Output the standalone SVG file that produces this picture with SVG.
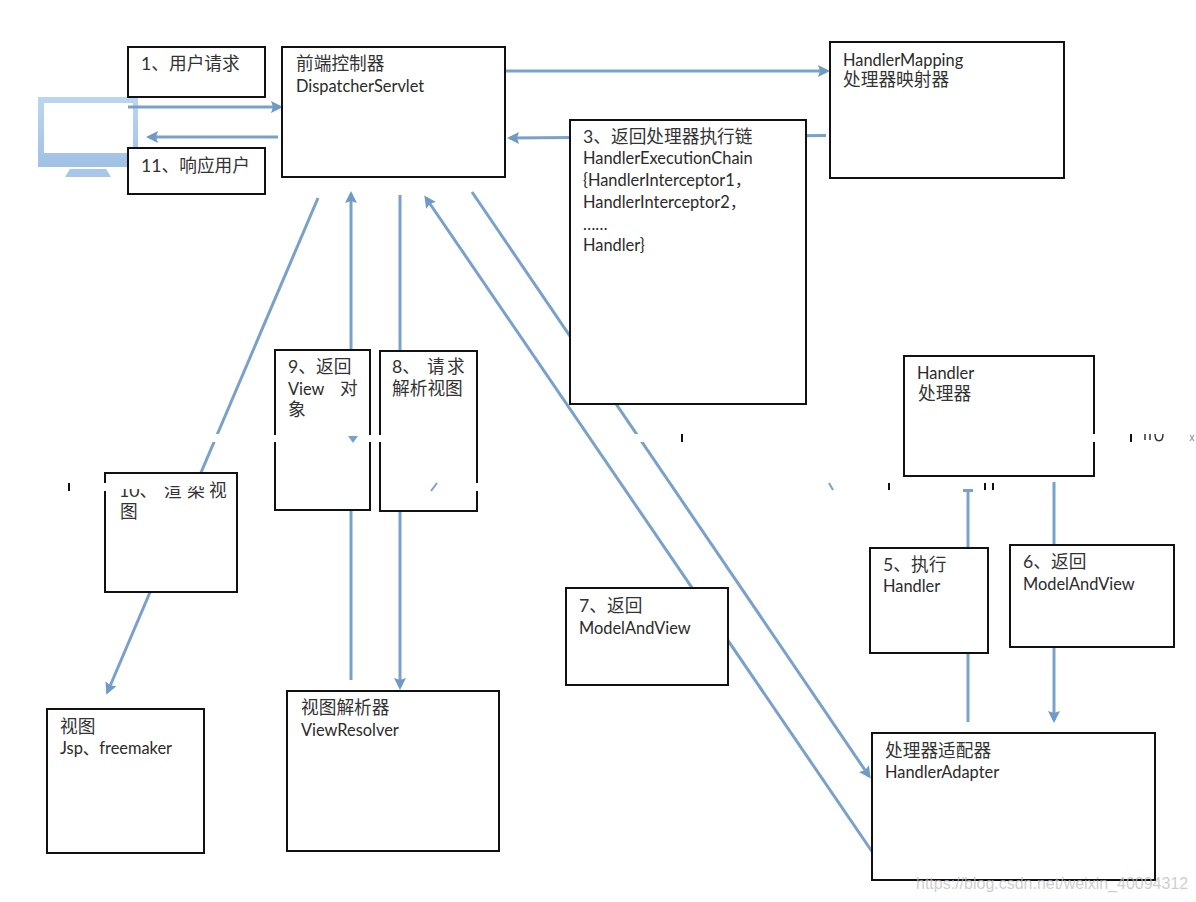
<svg xmlns="http://www.w3.org/2000/svg" width="1196" height="902" viewBox="0 0 1196 902">
<style>
.box{fill:#fff;stroke:#111;stroke-width:2}
.t{font-family:Lato,"Noto Sans CJK SC",sans-serif;font-size:16.400px;fill:#2a2a2a}
.z{font-family:Lato,"Noto Sans CJK SC",sans-serif;font-size:17.700px;fill:#333}
.c{fill:none;stroke:#7aa1c9;stroke-width:3}
.a{marker-end:url(#arrow)}
.gap{fill:#fff}
.tick{stroke:#111;stroke-width:2}
.wm{font-family:"Liberation Sans",sans-serif;font-size:16px;fill:#bdbdbd;fill-opacity:.75}
</style>
<defs>
<marker id="arrow" markerUnits="userSpaceOnUse" markerWidth="14" markerHeight="14" refX="9" refY="6" orient="auto"><path d="M0 0L12 6L0 12L2 6Z" fill="#6f9ac6"/></marker>
<linearGradient id="mon" x1="0" y1="0" x2="0" y2="1"><stop offset="0" stop-color="#bcd6f0"/><stop offset="1" stop-color="#a0c1e5"/></linearGradient>
</defs>
<g id="monitor">
<rect x="38" y="97" width="100" height="70" fill="url(#mon)"/>
<rect x="44" y="103" width="89" height="50" fill="#fff"/>
<path d="M70 169H106L111 177H65Z" fill="#a8c6e8"/>
</g>
<g id="connectors">
<line class="c a" x1="128" y1="107" x2="280" y2="107"/>
<line class="c a" x1="278" y1="137" x2="149" y2="137"/>
<line class="c a" x1="506" y1="71" x2="827" y2="71"/>
<line class="c a" x1="826" y1="135.500" x2="510" y2="138"/>
<line class="c a" x1="318" y1="198" x2="107.500" y2="692"/>
<line class="c a" x1="351" y1="680" x2="351" y2="194"/>
<line class="c a" x1="400" y1="195" x2="400" y2="687"/>
<line class="c a" x1="472" y1="192" x2="869" y2="776"/>
<line class="c a" x1="873" y1="853" x2="426" y2="198"/>
<line class="c" x1="968" y1="490" x2="968" y2="722"/>
<line class="c" x1="963" y1="490.500" x2="973" y2="490.500"/>
<line class="c a" x1="1054" y1="482" x2="1054" y2="720"/>
</g>
<g id="node-1"><rect class="box" x="128" y="47" width="137" height="50"/><text class="z" x="141" y="70">1、用户请求</text></g>
<g id="node-11"><rect class="box" x="128" y="148" width="137" height="46"/><text class="z" x="141" y="172">11、响应用户</text></g>
<g id="node-dispatcher"><rect class="box" x="282" y="47" width="223" height="130"/><text class="z" x="296" y="70">前端控制器</text><text class="t" x="296" y="92">DispatcherServlet</text></g>
<g id="node-mapping"><rect class="box" x="830" y="42" width="234" height="136"/><text class="t" x="843" y="66">HandlerMapping</text><text class="z" x="843" y="86">处理器映射器</text></g>
<g id="node-3"><rect class="box" x="570" y="120" width="236" height="284"/><text class="z" x="583" y="143">3、返回处理器执行链</text><text class="t" x="583" y="164">HandlerExecutionChain</text><text class="t" x="583" y="186">{HandlerInterceptor1，</text><text class="t" x="583" y="208">HandlerInterceptor2，</text><text class="t" x="583" y="230">……</text><text class="t" x="583" y="251">Handler}</text></g>
<g id="node-handler"><rect class="box" x="904" y="356" width="190" height="120"/><text class="t" x="917" y="379">Handler</text><text class="z" x="918" y="400">处理器</text></g>
<g id="node-9"><rect class="box" x="275" y="350" width="95" height="160"/><text class="z" x="288" y="373">9、返回</text><text class="t" x="288" y="395">View</text><text class="z" x="340" y="395">对</text><text class="z" x="288" y="416">象</text></g>
<g id="node-8"><rect class="box" x="380" y="351" width="97" height="160"/><text class="z" x="392" y="373">8、</text><text class="z" x="427" y="373">请</text><text class="z" x="447" y="373">求</text><text class="z" x="392" y="395">解析视图</text></g>
<g id="node-10"><rect class="box" x="105" y="473" width="132" height="119"/><text class="z" x="119" y="497">10、</text><text class="z" x="164" y="497">渲</text><text class="z" x="187" y="497">染</text><text class="z" x="209" y="497">视</text><text class="z" x="120" y="518">图</text></g>
<g id="node-view"><rect class="box" x="47" y="709" width="157" height="144"/><text class="z" x="60" y="733">视图</text><text class="t" x="60" y="754">Jsp、freemaker</text></g>
<g id="node-resolver"><rect class="box" x="287" y="691" width="212" height="160"/><text class="z" x="301" y="714">视图解析器</text><text class="t" x="301" y="736">ViewResolver</text></g>
<g id="node-7"><rect class="box" x="566" y="588" width="162" height="97"/><text class="z" x="579" y="612">7、返回</text><text class="t" x="579" y="634">ModelAndView</text></g>
<g id="node-5"><rect class="box" x="870" y="548" width="118" height="105"/><text class="z" x="883" y="571">5、执行</text><text class="t" x="883" y="592">Handler</text></g>
<g id="node-6"><rect class="box" x="1010" y="545" width="164" height="102"/><text class="z" x="1023" y="568">6、返回</text><text class="t" x="1023" y="590">ModelAndView</text></g>
<g id="node-adapter"><rect class="box" x="872" y="733" width="283" height="147"/><text class="z" x="885" y="757">处理器适配器</text><text class="t" x="885" y="778">HandlerAdapter</text></g>
<g id="gaps">
<rect class="gap" x="205" y="434" width="25" height="8"/>
<rect class="gap" x="270" y="435" width="10" height="7"/>
<rect class="gap" x="365" y="435" width="20" height="7"/>
<rect class="gap" x="630" y="434" width="20" height="8"/>
<rect class="gap" x="474" y="483" width="6" height="8"/>
<rect class="gap" x="1090" y="434" width="8" height="8"/>
<rect class="gap" x="101" y="483" width="8" height="8"/>
<rect class="gap" x="108" y="480" width="50" height="9"/>
<rect class="gap" x="158" y="480" width="50" height="6"/>
</g>
<g id="fragments">
<path d="M348 436H358L353 443Z" fill="#7aa1c9"/>
<line x1="437" y1="483" x2="431" y2="491" stroke="#7aa1c9" stroke-width="2"/>
<line x1="829" y1="483" x2="833" y2="490" stroke="#7aa1c9" stroke-width="2"/>
<line class="tick" x1="69" y1="483" x2="69" y2="491"/>
<line class="tick" x1="682" y1="434" x2="682" y2="442"/>
<line class="tick" x1="889" y1="483" x2="889" y2="490"/>
<line class="tick" x1="985" y1="483" x2="985" y2="490"/>
<line class="tick" x1="993" y1="483" x2="993" y2="490"/>
<line class="tick" x1="1131" y1="434" x2="1131" y2="442"/>
<path d="M1145 434V440M1150 434V440M1155 434C1155 443 1163 443 1163 434" fill="none" stroke="#333" stroke-width="1.500"/>
<path d="M1190 435L1194 441M1194 435L1190 441" fill="none" stroke="#999" stroke-width="1.200"/>
</g>
<text class="wm" x="916" y="889">https://blog.csdn.net/weixin_40094312</text>
</svg>
